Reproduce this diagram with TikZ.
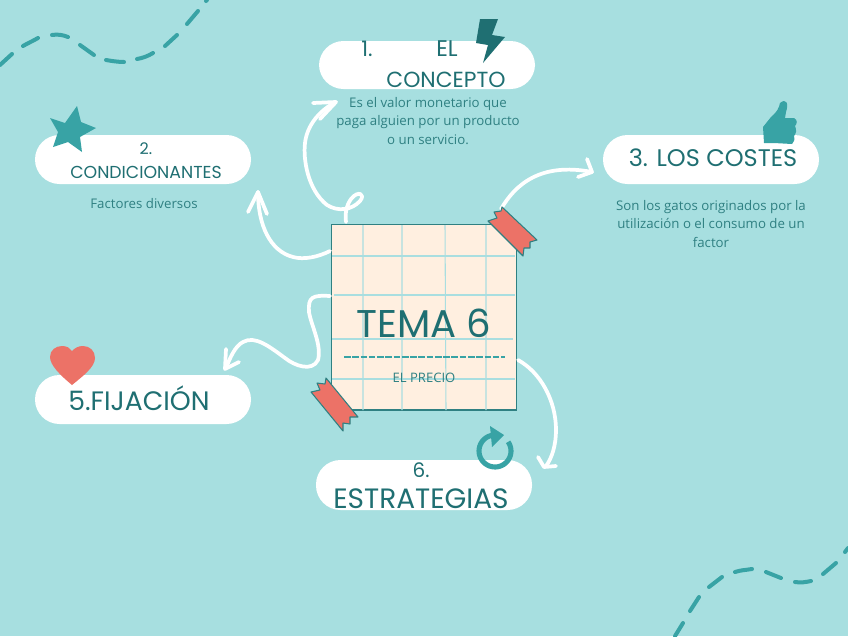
\documentclass[tikz,border=0pt]{standalone}
\usepackage{fontspec}
\setmainfont{Open Sans}
\newfontfamily\headfont{Poppins}
\definecolor{bgc}{HTML}{A7DFE0}
\definecolor{teal1}{HTML}{1F6F72}
\definecolor{teal2}{HTML}{38A3A5}
\definecolor{teal3}{HTML}{2F8082}
\definecolor{paper}{HTML}{FFEFE0}
\definecolor{coral}{HTML}{EC7267}
\definecolor{gridc}{HTML}{A9DEE0}
\tikzset{
 x=0.75pt,y=-0.75pt,
 pill/.style={fill=white,draw=none,rounded corners=24.5*0.75pt},
 head/.style={font=\headfont\fontsize{15}{17}\selectfont,text=teal1,align=center,inner sep=0pt},
 body/.style={font=\fontsize{9.95}{13.9}\selectfont,text=teal3,align=center,inner sep=0pt},
 link/.style={draw=white,line width=2.8pt,line cap=round,line join=round},
 tip/.style={draw=white,line width=2.8pt,line cap=round,line join=round},
 wave/.style={draw=teal2,line width=3pt,line cap=round},
 gridl/.style={draw=gridc,line width=0.8pt},
 tape/.style={fill=coral,draw=teal3,line width=0.8pt,line join=round},
}
\begin{document}
\begin{tikzpicture}
\useasboundingbox (0,0) rectangle (848,636);
\fill[bgc] (0,0) rectangle (848,636);
% decorative waves
\draw[wave] (0,65) -- (12,54) (23,46) .. controls (28,43) and (33,41) .. (38,38)
 (52,35) .. controls (58,34) and (63,35) .. (68,37)
 (80,45) -- (94,55)
 (106,60) .. controls (112,61) and (118,62) .. (124,62)
 (137,59) .. controls (143,58) and (148,56) .. (153,53)
 (165,46) -- (177,35) (187,24) -- (198,11) (206,1) -- (207,0);
\draw[wave] (675,636) -- (683,623) (690,611) -- (699,597) (709,587) -- (722,577)
 (735,572) .. controls (741,570) and (746,570) .. (752,569)
 (766,572) -- (781,578)
 (795,582) .. controls (801,583) and (806,582) .. (811,581)
 (823,574) -- (836,563) (845,552) -- (848,548);
% pills
\path[pill] (319,41) rectangle (535,89);
\path[pill] (35,135) rectangle (251,184);
\path[pill] (603,135) rectangle (819,184);
\path[pill] (35,375) rectangle (251,424);
\path[pill] (316,460) rectangle (532,510);
% paper
\node[fill=paper,draw=teal3,line width=1pt,minimum width=138.5pt,minimum height=139pt,inner sep=0pt,anchor=north west] (paper) at (331,224) {};
\draw[gridl] (363,225)--(363,410) (402,225)--(402,410) (445,225)--(446,410) (486,225)--(486,410);
\draw[gridl] (332,256)--(515,256) (334,295)--(515,295) (332,339)--(513,339) (332,379)--(515,379);
% links
\draw[link] (346,222) .. controls (345,214) and (346,206) .. (351,199) .. controls (358,190) and (366,194) .. (360,201) .. controls (352,210) and (338,212) .. (327,205) .. controls (308,190) and (303,160) .. (305,143) .. controls (307,125) and (320,110) .. (336,102);
\coordinate (t1) at (336,102);
\draw[tip] (313,103) -- (t1) -- (320,119);
\draw[link] (330,251) .. controls (318,257) and (304,260) .. (293,257) .. controls (270,251) and (258,225) .. (258,192);
\coordinate (t2) at (258,192);
\draw[tip] (248,212) -- (t2) -- (267,214);
\draw[link] (501,209) .. controls (515,185) and (540,162) .. (592,172);
\coordinate (t3) at (592,172);
\draw[tip] (578,177) -- (t3) -- (587,159);
\draw[link] (330,296) .. controls (312,295) and (308,297) .. (309,312) .. controls (311,325) and (322,345) .. (318,360) .. controls (312,372) and (295,366) .. (285,358) .. controls (270,347) and (255,335) .. (243,342) .. controls (235,346) and (230,358) .. (226,368);
\coordinate (t5) at (225,369);
\draw[tip] (226,349) -- (t5) -- (239,362);
\draw[link] (518,360) .. controls (540,372) and (556,400) .. (556,430) .. controls (556,445) and (552,458) .. (546,466);
\coordinate (t6) at (544,467);
\draw[tip] (538,457) -- (t6) -- (556,466);
% tapes
\path[tape] (488,221) -- (497,218) -- (494,212) -- (501,211) -- (502,207) -- (537,240) -- (530,242) -- (530,248) -- (524,248) -- (523,256) -- cycle;
\path[tape] (311,392) -- (320,390) -- (317,383) -- (325,384) -- (326,378) -- (358,417) -- (350,417) -- (350,424) -- (343,423) -- (343,431) -- cycle;
% icons
\fill[teal1] (480,19) -- (498,19) -- (492,35) -- (505,37) -- (483,63) -- (488,45) -- (476,43) -- cycle;
\fill[teal2] (77,106) -- (81,122) -- (96,128) -- (80,137) -- (82,152) -- (68,142) -- (53,147) -- (58,132) -- (50,118) -- (65,123) -- cycle;
\fill[coral] (72,385) .. controls (60,375) and (50,365) .. (50,357) .. controls (50,350) and (56,346) .. (62,346) .. controls (67,346) and (70,348) .. (72,351) .. controls (75,348) and (78,346) .. (83,346) .. controls (90,346) and (95,351) .. (95,358) .. controls (95,367) and (83,376) .. (72,385) -- cycle;
\fill[teal2] (763,127) -- (771,117) .. controls (777,112) and (779,108) .. (780,103) .. controls (786,98) and (789,103) .. (786,112) -- (785,118) -- (794,118) .. controls (798,120) and (797,124) .. (795,126) .. controls (797,130) and (796,134) .. (794,136) .. controls (795,140) and (794,142) .. (792,144) -- (774,143) -- (764,143) -- cycle;
\draw[teal2,line width=3.8pt] plot[domain=-35:265,samples=40] ({495+16*cos(\x)},{451+16*sin(\x)});
\fill[teal2] (490,426) -- (504,435) -- (492,447) -- cycle;
% labels
\node[head,font=\headfont\fontsize{16}{18}\selectfont] (l1a) at (367,49) {1.};
\node[head,font=\headfont\fontsize{17}{18}\selectfont] (l1b) at (447,49) {EL};
\node[head,font=\headfont\fontsize{16.4}{18}\selectfont] (l1c) at (446,80) {CONCEPTO};
\node[head,font=\headfont\fontsize{12}{14}\selectfont] (l2a) at (146,149) {2.};
\node[head,font=\headfont\fontsize{13}{15}\selectfont] (l2b) at (146,172) {CONDICIONANTES};
\node[head,font=\headfont\fontsize{18}{20}\selectfont] (l3) at (713,158) {3. LOS COSTES};
\node[head,font=\headfont\fontsize{20}{22}\selectfont] (l5) at (139,398) {5.FIJACIÓN};
\node[head,font=\headfont\fontsize{15}{17}\selectfont] (l6a) at (421,470) {6.};
\node[head,font=\headfont\fontsize{21}{23}\selectfont] (l6b) at (421,499) {ESTRATEGIAS};
\node[head,font=\headfont\fontsize{29}{31}\selectfont] (title) at (424,323) {TEMA 6};
\draw[draw=teal2,line width=2pt,dash pattern=on 5pt off 1.2pt] (344,357) -- (505,357);
\node[body,font=\fontsize{9.8}{11}\selectfont] (sub) at (424,378) {EL PRECIO};
\node[body] (d1) at (428,121) {Es el valor monetario que\\paga alguien por un producto\\o un servicio.};
\node[body] (d2) at (144,204) {Factores diversos};
\node[body] (d3) at (711,224) {Son los gatos originados por la\\utilización o el consumo de un\\factor};
\end{tikzpicture}
\end{document}
